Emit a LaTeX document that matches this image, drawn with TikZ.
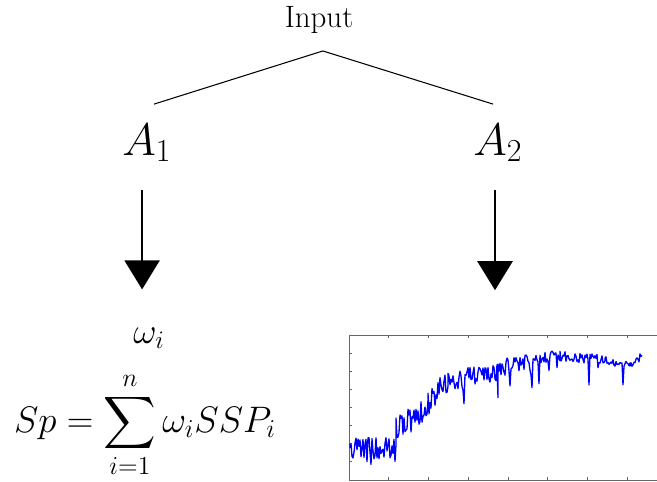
\RequirePackage{fix-cm}
\documentclass[tikz,border=0pt]{standalone}
\usepackage{amsmath}
\usepackage{tikz}
\usetikzlibrary{positioning, arrows.meta}

\begin{document}
\begin{tikzpicture}[
  x=0.02cm, y=-0.02cm,
  txt/.style={inner sep=0pt, anchor=base},
  link/.style={draw=black, line width=0.6pt},
  bigarrow/.style={-{Triangle[width=20pt, length=16.5pt]}, line width=0.9pt},
  frame/.style={draw=black!60, line width=0.5pt, anchor=north west, inner sep=0pt, minimum width=6.32cm, minimum height=2.9cm},
  tick/.style={draw=black!60, line width=0.4pt},
  curve/.style={draw=blue, line width=0.75pt, line join=round}
]
  \useasboundingbox (0,0) rectangle (657,481);

  % Nodes
  \node[txt, font=\fontsize{17.6}{20}\selectfont] (input) at (319,27) {Input};
  \node[txt, font=\fontsize{26}{30}\selectfont] (a1) at (147,155) {$A_1$};
  \node[txt, font=\fontsize{26}{30}\selectfont] (a2) at (498,155) {$A_2$};
  \node[txt, font=\fontsize{20.5}{24}\selectfont] (w) at (149,343) {$\omega_i$};
  \node[txt, font=\fontsize{21}{24}\selectfont] (sp) at (145,432) {$\displaystyle Sp=\sum_{i=1}^{n}\omega_i SSP_i$};
  \node[frame] (chart) at (349,335) {};

  % Lines and arrows
  \draw[link] ([xshift=2.2pt, yshift=-10pt]input.south) -- ([xshift=4pt, yshift=11pt]a1.north);
  \draw[link] ([xshift=2.2pt, yshift=-10pt]input.south) -- ([xshift=-2.8pt, yshift=11pt]a2.north);
  \draw[bigarrow, shorten <=16pt, shorten >=21.5pt] ([xshift=-2.8pt]a1.south) -- ([xshift=-2.8pt]a1.south |- w.north);
  \draw[bigarrow, line width=1.2pt, shorten <=16pt, shorten >=25.5pt] ([xshift=-1.7pt]a2.south) -- ([xshift=-1.7pt]a2.south |- chart.north);

  % Chart ticks
  \foreach \k in {1,...,7} {
    \draw[tick] (349+39.75*\k,335) -- ++(0,3);
    \draw[tick] (349+39.75*\k,480) -- ++(0,-3);
    \draw[tick] (349,335+18.1*\k) -- ++(3,0);
  }

  % Chart curve
  \pgfmathsetseed{11}
  \draw[curve] (350,448)
    \foreach \xa/\ya/\xb/\yb/\na/\ns in {350/448/396/450/12/47, 396/428/428/410/13/33, 428/404/448/380/12/21,
      448/380/498/374/10/51, 498/370/525/360/9/28, 525/360/560/356/6/36, 560/356/605/360/5/46,
      605/360/630/365/4/26, 630/364/642/356/4/13} {
      -- plot[domain=\xa:\xb, samples=\ns] (\x, {\ya+(\yb-\ya)*(\x-\xa)/(\xb-\xa)+\na*rand+(rnd>0.93)*28*rnd})
    };
\end{tikzpicture}
\end{document}
